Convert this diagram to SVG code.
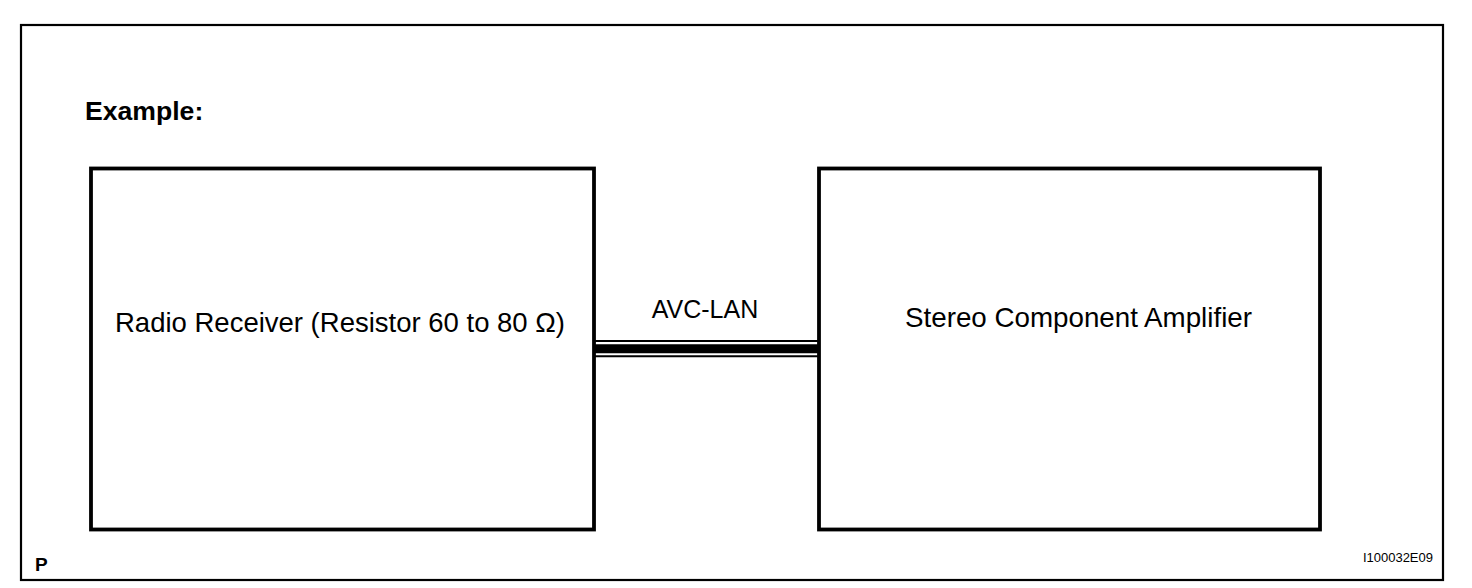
<svg xmlns="http://www.w3.org/2000/svg" width="1472" height="588" viewBox="0 0 1472 588">
<style>
.box{fill:none;stroke:#000;stroke-width:3.8}
.t{font-family:"Liberation Sans",Arial,sans-serif;fill:#000}
</style>
<rect x="0" y="0" width="1472" height="588" fill="#fff"/>
<g id="frame">
<rect x="21" y="25" width="1422" height="555" fill="none" stroke="#000" stroke-width="2.2"/>
<text class="t" x="85" y="120" font-size="26.6" font-weight="bold">Example:</text>
<text class="t" x="35" y="571" font-size="19" font-weight="bold">P</text>
<text class="t" x="1433" y="562" font-size="13" text-anchor="end">I100032E09</text>
</g>
<g id="connectors">
<line x1="594" y1="341" x2="819" y2="341" stroke="#000" stroke-width="2"/>
<line x1="594" y1="348.8" x2="819" y2="348.8" stroke="#000" stroke-width="9"/>
<line x1="594" y1="356.3" x2="819" y2="356.3" stroke="#000" stroke-width="2"/>
<text class="t" x="705" y="318" font-size="25" text-anchor="middle">AVC-LAN</text>
</g>
<g id="radio-receiver">
<rect class="box" x="91" y="168.5" width="503" height="361"/>
<text class="t" x="115" y="332" font-size="27.5" textLength="450" lengthAdjust="spacingAndGlyphs">Radio Receiver (Resistor 60 to 80 Ω)</text>
</g>
<g id="stereo-amplifier">
<rect class="box" x="819" y="168.5" width="501" height="361"/>
<text class="t" x="905" y="327" font-size="27.6" textLength="347" lengthAdjust="spacingAndGlyphs">Stereo Component Amplifier</text>
</g>
</svg>
